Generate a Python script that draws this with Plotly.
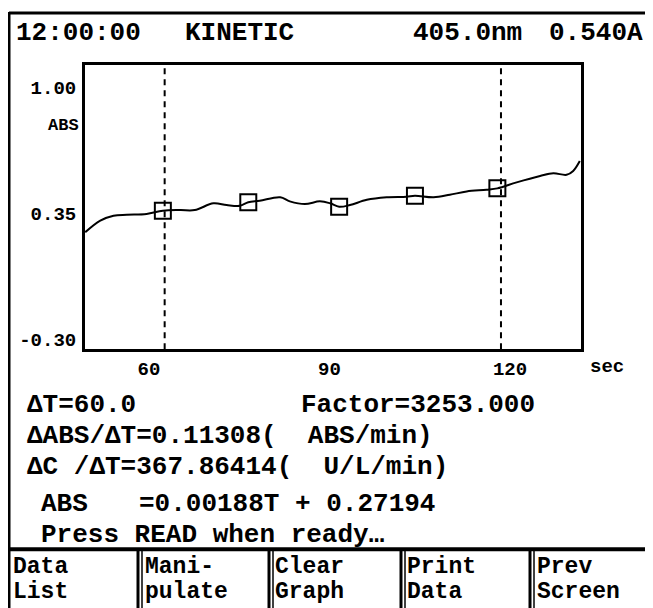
import plotly.graph_objects as go

W, H = 653, 608
OFF = 8  # page body margin in the browser

# ---------------- data ----------------
time_s = [49.4, 51.9, 54.1, 56.3, 59.6, 62.3, 65.2, 67.6, 70.7, 72.9, 75.1, 76.5,
          78.4, 81.8, 83.4, 85.9, 88.4, 90.1, 91.6, 93.4, 96.2, 99.5, 102.8, 104.2,
          107.3, 110.0, 112.8, 116.1, 117.9, 121.1, 125.0, 127.2, 129.4, 130.5, 131.6]
absorb = [0.252, 0.312, 0.337, 0.342, 0.346, 0.363, 0.366, 0.366, 0.401, 0.392, 0.388, 0.406,
          0.414, 0.432, 0.411, 0.397, 0.411, 0.401, 0.383, 0.392, 0.419, 0.432, 0.435, 0.440,
          0.432, 0.445, 0.462, 0.471, 0.478, 0.509, 0.542, 0.556, 0.548, 0.568, 0.619]

read_time = [62.3, 76.5, 91.6, 104.2, 117.9]
read_abs = [0.363, 0.406, 0.383, 0.440, 0.478]

window_time = [62.6, 118.5]

x_tick_vals = [60, 90, 120]
x_tick_text = ["60", "90", "120"]
y_tick_vals = [-0.30, 0.35, 1.00]
y_tick_text = ["-0.30", "0.35", "1.00"]

x_range = [49.36, 131.8]
y_range = [-0.352, 1.1157]

header_texts = ["12:00:00", "KINETIC", "405.0nm", "0.540A"]
info_lines = ["\u0394T=60.0", "Factor=3253.000",
              "\u0394ABS/\u0394T=0.11308(\u00a0\u00a0ABS/min)",
              "\u0394C\u00a0/\u0394T=367.86414(\u00a0\u00a0U/L/min)",
              "ABS", "=0.00188T + 0.27194",
              "Press READ when ready\u2026"]
button_labels = [("Data", "List"), ("Mani-", "pulate"), ("Clear", "Graph"),
                 ("Print", "Data"), ("Prev", "Screen")]

FONT = "Liberation Mono, Courier New, monospace"


def xp(px):
    return (px - OFF) / W


def yp(py):
    return 1 - (py - OFF) / H


fig = go.Figure()

fig.add_trace(go.Scatter(
    x=time_s, y=absorb, mode="lines",
    line=dict(color="black", width=2, shape="spline", smoothing=1.0),
    hoverinfo="skip", showlegend=False))

fig.add_trace(go.Scatter(
    x=read_time, y=read_abs, mode="markers",
    marker=dict(symbol="square-open", size=16, color="black",
                line=dict(color="#222", width=2)),
    hoverinfo="skip", showlegend=False))

shapes = []
for t in window_time:
    shapes.append(dict(type="line", xref="x", yref="y domain", x0=t, x1=t, y0=0, y1=1,
                       line=dict(color="black", width=2, dash="6px,5px")))

# outer frame
shapes.append(dict(type="line", xref="paper", yref="paper", x0=xp(9), x1=xp(661),
                   y0=yp(13), y1=yp(13), line=dict(color="black", width=3)))
shapes.append(dict(type="line", xref="paper", yref="paper", x0=xp(9), x1=xp(9),
                   y0=yp(12), y1=yp(552), line=dict(color="black", width=3)))
# button bar
shapes.append(dict(type="line", xref="paper", yref="paper", x0=0, x1=1,
                   y0=yp(552), y1=yp(552), line=dict(color="black", width=4)))
shapes.append(dict(type="line", xref="paper", yref="paper", x0=xp(9), x1=xp(9),
                   y0=yp(552), y1=0, line=dict(color="black", width=3)))
for sx in [138, 269, 401, 530]:
    shapes.append(dict(type="line", xref="paper", yref="paper", x0=xp(sx), x1=xp(sx),
                       y0=yp(552), y1=0, line=dict(color="black", width=3)))
    shapes.append(dict(type="line", xref="paper", yref="paper", x0=xp(sx + 4), x1=xp(sx + 4),
                       y0=yp(552), y1=0, line=dict(color="black", width=1.5)))

ann = []


def txt(s, x, y, size, anchor="left"):
    ann.append(dict(text=s, x=xp(x), y=yp(y), xref="paper", yref="paper",
                    xanchor=anchor, yanchor="middle", showarrow=False,
                    font=dict(family=FONT, size=size, color="black", weight="bold")))


# header
for s, x in zip(header_texts, [14, 183, 411, 547]):
    txt(s, x, 33, 26)

# unit labels
txt("ABS", 81, 126, 17, "right")
txt("sec", 607, 369, 19, "center")

# info block
txt(info_lines[0], 25, 407, 26)
txt(info_lines[1], 299, 407, 26)
txt(info_lines[2], 25, 438, 26)
txt(info_lines[3], 25, 469, 26)
txt(info_lines[4], 39, 506, 26)
txt(info_lines[5], 137, 506, 26)
txt(info_lines[6], 39, 538, 26)

# buttons
for (a, b), x in zip(button_labels, [11, 143, 273, 405, 535]):
    txt(a, x, 570, 23)
    txt(b, x, 595, 23)

fig.update_layout(
    width=W, height=H, margin=dict(l=0, r=0, t=0, b=0),
    paper_bgcolor="white", plot_bgcolor="white",
    shapes=shapes, annotations=ann,
    xaxis=dict(domain=[xp(85), xp(581)], range=x_range, tickvals=x_tick_vals,
               ticktext=x_tick_text, showgrid=False, zeroline=False,
               showline=True, mirror=True, linecolor="black", linewidth=3,
               ticks="", tickfont=dict(family=FONT, size=19, color="black", weight="bold")),
    yaxis=dict(domain=[yp(351), yp(65)], range=y_range, tickvals=y_tick_vals,
               ticktext=y_tick_text, showgrid=False, zeroline=False,
               showline=True, mirror=True, linecolor="black", linewidth=3,
               ticks="", ticklabelstandoff=2,
               tickfont=dict(family=FONT, size=19, color="black", weight="bold")),
)

fig.write_html("out.html")
